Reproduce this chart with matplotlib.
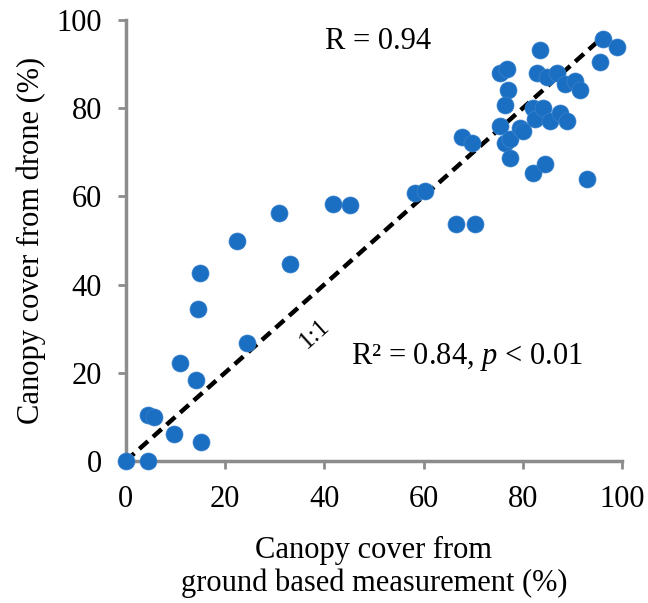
import matplotlib
matplotlib.use("Agg")
import matplotlib.pyplot as plt

# ground based canopy cover (%) vs drone canopy cover (%)
ground = [0, 4.5, 4.5, 5.6, 9.8, 15.2, 11.0, 14.2, 14.5, 15.0,
          22.5, 24.4, 30.8, 33.0, 41.8, 45.1, 58.2, 60.3, 66.6, 70.3,
          67.8, 69.7, 75.4, 76.8, 77.1, 76.4, 75.4, 76.4, 77.4, 77.4,
          79.4, 80.0, 82.1, 84.5, 83.5, 82.8, 84.8, 86.8, 88.5, 90.5,
          91.5, 82.1, 82.5, 84.1, 85.5, 87.5, 88.9, 92.9, 95.6, 96.2,
          98.9]
drone = [0, 0, 10.4, 10.0, 6.1, 4.3, 22.3, 18.4, 34.5, 42.6,
         49.8, 26.8, 56.2, 44.7, 58.2, 58.0, 60.8, 61.2, 53.8, 53.8,
         73.4, 72.1, 88.0, 88.8, 84.0, 80.7, 76.0, 72.2, 73.0, 68.8,
         75.6, 74.8, 65.3, 67.4, 93.2, 88.0, 87.0, 88.0, 85.5, 86.2,
         84.0, 80.1, 77.6, 80.0, 77.0, 78.8, 77.1, 64.0, 90.5, 95.6,
         93.8]
one_to_one = [0, 97]
ticks = [0, 20, 40, 60, 80, 100]

plt.rcParams['font.family'] = ['Liberation Serif', 'DejaVu Serif']
plt.rcParams['mathtext.fontset'] = 'custom'
plt.rcParams['mathtext.rm'] = 'Liberation Serif'
plt.rcParams['mathtext.it'] = 'Liberation Serif:italic'

fig = plt.figure(figsize=(6.48, 6.03), dpi=100)
ax = fig.add_axes([0.194, 0.2355, 0.766, 0.7315])

# 1:1 line
ax.plot(one_to_one, one_to_one, color='black', linestyle=(0, (2.6, 1.5)),
        linewidth=3.2, zorder=2)
ax.scatter(ground, drone, s=150, color='#1B6FC2', edgecolors='#3A82CC',
           linewidths=0.5, zorder=3, clip_on=False)

ax.set_xlim(0, 100)
ax.set_ylim(0, 100)
ax.set_xticks(ticks)
ax.set_yticks(ticks)

for s in ['top', 'right']:
    ax.spines[s].set_visible(False)
for s in ['left', 'bottom']:
    ax.spines[s].set_color('#8C8C8C')
    ax.spines[s].set_linewidth(2.5)
ax.tick_params(direction='out', length=6, width=2, color='#8C8C8C',
               labelsize=22, pad=11)

ax.set_xlabel('Canopy cover from\nground based measurement (%)', fontsize=22,
              linespacing=1.15)
ax.xaxis.set_label_coords(0.5, -0.17)
ax.xaxis.label.set_va('top')
ax.set_ylabel('Canopy cover from drone (%)', fontsize=22)
ax.yaxis.set_label_coords(-0.19, 0.5)
ax.yaxis.label.set_va('center')

ax.text(50.8, 95, 'R = 0.94', fontsize=22, ha='center', va='center')
ax.text(45.4, 23.6, 'R² = 0.84, $\\mathit{p}$ < 0.01', fontsize=22,
        ha='left', va='center')
ax.text(38.1, 28.8, '1:1', fontsize=18, rotation=42, ha='center', va='center')

fig.savefig('out.png', dpi=100)
